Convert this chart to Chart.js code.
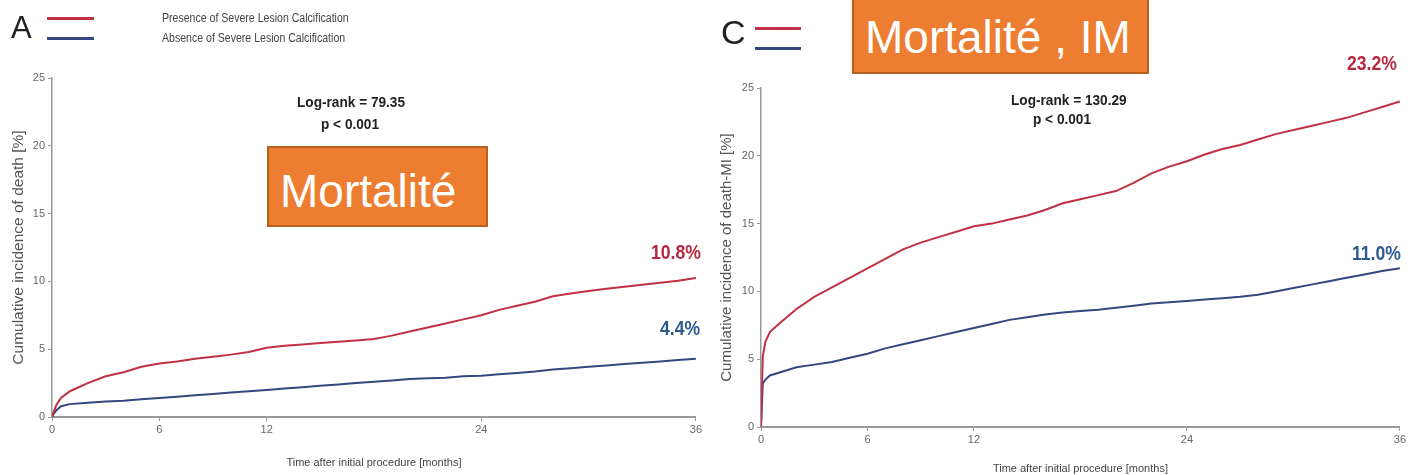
<!DOCTYPE html>
<html><head><meta charset="utf-8">
<script src="https://cdn.jsdelivr.net/npm/chart.js@4/dist/chart.umd.min.js"></script>
<style>
html,body{margin:0;padding:0;width:1408px;height:475px;overflow:hidden;background:#fff;position:relative;}
canvas{position:absolute;top:0;}
#c1{left:0;}
#c2{left:704px;}
.t{position:absolute;white-space:nowrap;font-family:"Liberation Sans",Arial,sans-serif;line-height:1;transform-origin:0 0;}
.sq{transform:scaleX(0.88);}
.box{position:absolute;background:#ed7d31;border:2px solid #b8611f;box-sizing:border-box;color:#fff;font-family:"Liberation Sans",Arial,sans-serif;white-space:nowrap;line-height:1;}
.leg{position:absolute;height:3px;}
</style></head>
<body>
<canvas id="c1" width="704" height="475"></canvas>
<canvas id="c2" width="704" height="480"></canvas>

<div class="t" style="left:11px;top:12px;font-size:31px;color:#222;">A</div>
<div class="leg" style="left:47px;top:17px;width:47px;background:#c23045;"></div>
<div class="leg" style="left:47px;top:37px;width:47px;background:#34477e;"></div>
<div class="t sq" style="left:162px;top:12px;font-size:12px;color:#444;">Presence of Severe Lesion Calcification</div>
<div class="t sq" style="left:162px;top:32px;font-size:12px;color:#444;">Absence of Severe Lesion Calcification</div>
<div class="t sq" style="left:297px;top:94px;font-size:15.5px;font-weight:bold;color:#222;">Log-rank = 79.35</div>
<div class="t sq" style="left:321px;top:116px;font-size:15.5px;font-weight:bold;color:#222;">p &lt; 0.001</div>
<div class="box" style="left:267px;top:146px;width:221px;height:81px;font-size:46px;padding:20px 0 0 11px;">Mortalité</div>
<div class="t sq" style="left:651px;top:242px;font-size:20px;font-weight:bold;color:#b8283f;">10.8%</div>
<div class="t sq" style="left:660px;top:318px;font-size:20px;font-weight:bold;color:#2d5a8e;">4.4%</div>

<div class="t" style="left:721px;top:15px;font-size:34px;color:#222;">C</div>
<div class="leg" style="left:755px;top:27px;width:46px;background:#c23045;"></div>
<div class="leg" style="left:755px;top:47px;width:46px;background:#34477e;"></div>
<div class="t sq" style="left:1011px;top:92px;font-size:15.5px;font-weight:bold;color:#222;">Log-rank = 130.29</div>
<div class="t sq" style="left:1033px;top:111px;font-size:15.5px;font-weight:bold;color:#222;">p &lt; 0.001</div>
<div class="box" style="left:852px;top:-2px;width:297px;height:76px;font-size:46px;padding:14px 0 0 11px;">Mortalité , IM</div>
<div class="t sq" style="left:1347px;top:53px;font-size:20px;font-weight:bold;color:#b8283f;">23.2%</div>
<div class="t sq" style="left:1352px;top:243px;font-size:20px;font-weight:bold;color:#2d5a8e;">11.0%</div>

<script>
// ---- data ----
const months = [0,0.1,0.25,0.5,1,2,3,4,5,6,7,8,9,10,11,12,13,14,15,16,17,18,19,20,21,22,23,24,25,26,27,28,29,30,31,32,33,34,35,36];
const xTickValues = [0,6,12,24,36];
const yTickValues = [0,5,10,15,20,25];

const deathPresence = [0,0.4,0.9,1.4,1.9,2.5,3.0,3.3,3.7,3.95,4.1,4.3,4.45,4.6,4.8,5.1,5.25,5.35,5.45,5.55,5.65,5.75,6.0,6.3,6.6,6.9,7.2,7.5,7.9,8.2,8.5,8.9,9.1,9.3,9.45,9.6,9.75,9.9,10.05,10.25];
const deathAbsence  = [0,0.25,0.5,0.8,0.95,1.05,1.15,1.2,1.3,1.4,1.5,1.6,1.7,1.8,1.9,2.0,2.1,2.2,2.3,2.4,2.5,2.6,2.7,2.8,2.85,2.9,3.0,3.05,3.15,3.25,3.35,3.5,3.6,3.7,3.8,3.9,4.0,4.1,4.2,4.3];

const deathMIPresence = [0,5.2,6.3,7.0,7.6,8.7,9.6,10.3,11.0,11.7,12.4,13.1,13.6,14.0,14.4,14.8,15.0,15.3,15.6,16.0,16.5,16.8,17.1,17.4,18.0,18.7,19.2,19.6,20.1,20.5,20.8,21.2,21.6,21.9,22.2,22.5,22.8,23.2,23.6,24.0];
const deathMIAbsence  = [0,3.2,3.5,3.8,4.0,4.4,4.6,4.8,5.1,5.4,5.8,6.1,6.4,6.7,7.0,7.3,7.6,7.9,8.1,8.3,8.45,8.55,8.65,8.8,8.95,9.1,9.2,9.3,9.4,9.5,9.6,9.75,10.0,10.25,10.5,10.75,11.0,11.25,11.5,11.7];

const RED = '#c23045', BLUE = '#34477e';
const FONT = '"Liberation Sans",Arial,sans-serif';

function pts(ys){ return months.map((m,i)=>({x:m,y:ys[i]})); }

function makeChart(id, o){
  return new Chart(document.getElementById(id), {
    type:'line',
    data:{datasets:[
      {data:pts(o.red), borderColor:RED, borderWidth:2, pointRadius:0, tension:0},
      {data:pts(o.blue), borderColor:BLUE, borderWidth:2, pointRadius:0, tension:0}
    ]},
    options:{
      responsive:false, animation:false,
      layout:{padding:{left:0,right:o.pr,top:o.pt,bottom:0}},
      plugins:{legend:{display:false},tooltip:{enabled:false}},
      scales:{
        x:{type:'linear',min:0,max:36,
          afterBuildTicks:s=>{s.ticks=xTickValues.map(v=>({value:v}));},
          afterFit:s=>{s.height=o.xh;},
          grid:{drawOnChartArea:false,drawTicks:true,tickLength:4,color:'#999'},
          border:{color:'#999',width:2},
          ticks:{font:{family:FONT,size:11},color:'#666',padding:2,maxRotation:0},
          title:{display:true,text:'Time after initial procedure [months]',font:{family:FONT,size:11},color:'#444',padding:{top:0,bottom:o.xtb}}
        },
        y:{min:0,max:25,
          afterBuildTicks:s=>{s.ticks=yTickValues.map(v=>({value:v}));},
          afterFit:s=>{s.width=o.yw;},
          grid:{drawOnChartArea:false,drawTicks:true,tickLength:4,color:'#999'},
          border:{color:'#999',width:1.5},
          ticks:{font:{family:FONT,size:11},color:'#666',padding:3},
          title:{display:true,text:o.ytitle,font:{family:FONT,size:o.yfs},color:'#555',padding:{top:o.ytt,bottom:0}}
        }
      }
    }
  });
}

makeChart('c1',{red:deathPresence,blue:deathAbsence,pr:7,pt:78,xh:58,yw:52,xtb:5,ytt:9,yfs:15.5,ytitle:'Cumulative incidence of death [%]'});
makeChart('c2',{red:deathMIPresence,blue:deathMIAbsence,pr:6,pt:88,xh:53,yw:57,xtb:4,ytt:14,yfs:15,ytitle:'Cumulative incidence of death-MI [%]'});
</script>
</body></html>
